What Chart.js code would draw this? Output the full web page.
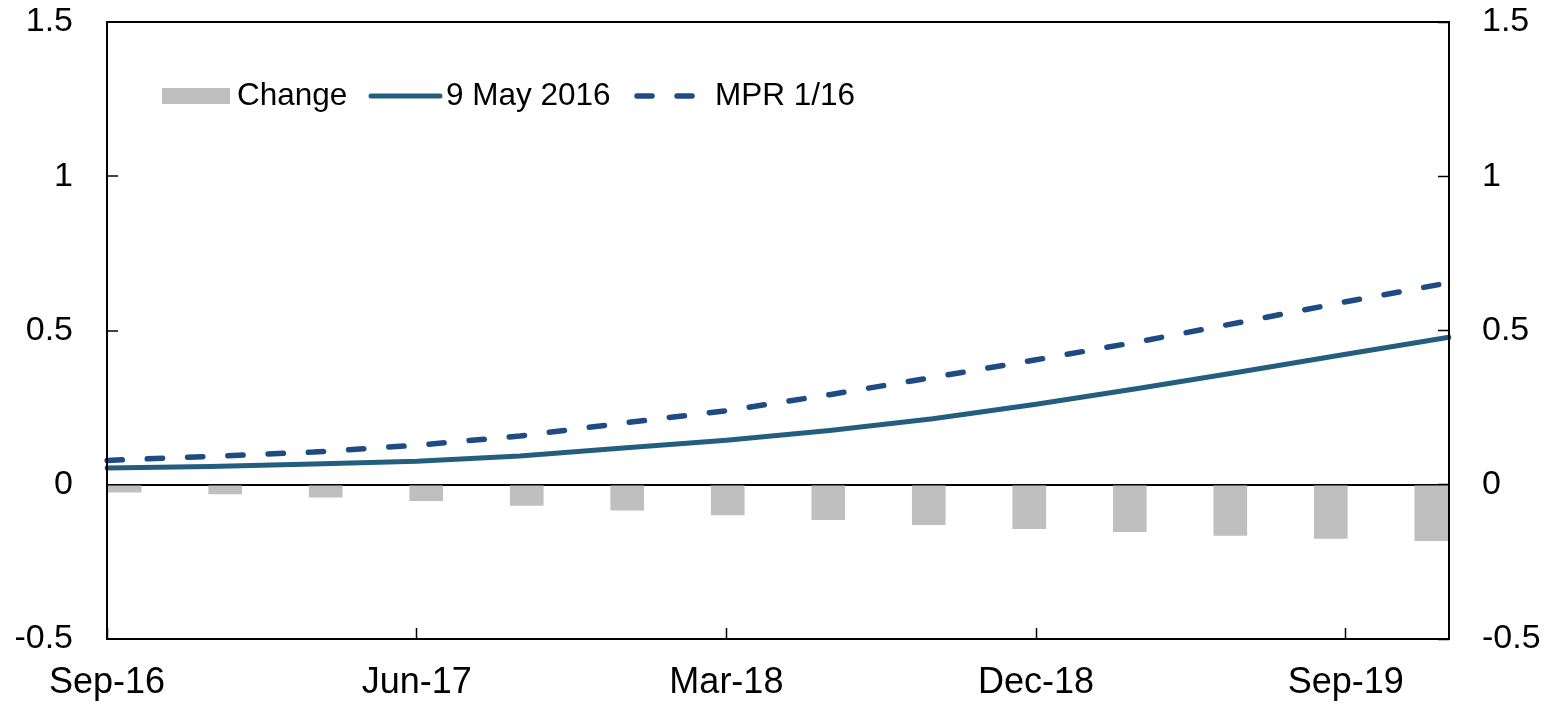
<!DOCTYPE html>
<html>
<head>
<meta charset="utf-8">
<script src="https://cdn.jsdelivr.net/npm/chart.js@4.4.1/dist/chart.umd.min.js"></script>
<style>
  html, body { margin: 0; padding: 0; background: #ffffff; }
  #wrap { width: 1552px; height: 704px; position: relative; }
</style>
</head>
<body>
<div id="wrap"><canvas id="c" width="1552" height="704"></canvas></div>
<script>
// ---- data ----
const categories = ['Sep-16','Dec-16','Mar-17','Jun-17','Sep-17','Dec-17','Mar-18','Jun-18','Sep-18','Dec-18','Mar-19','Jun-19','Sep-19','Dec-19'];
const xTickLabels = ['Sep-16','Jun-17','Mar-18','Dec-18','Sep-19'];
const yTickValues = [-0.5, 0, 0.5, 1, 1.5];
const seriesNames = ['Change', '9 May 2016', 'MPR 1/16'];
const changeValues = [-0.024, -0.030, -0.040, -0.052, -0.067, -0.082, -0.098, -0.113, -0.129, -0.142, -0.152, -0.164, -0.174, -0.181];
const may2016Values = [0.054, 0.059, 0.067, 0.076, 0.093, 0.119, 0.144, 0.176, 0.214, 0.261, 0.313, 0.367, 0.423, 0.478];
const mprValues = [0.079, 0.092, 0.106, 0.128, 0.158, 0.200, 0.240, 0.292, 0.348, 0.405, 0.464, 0.528, 0.593, 0.655];

// ---- styles ----
const FONT = "'Liberation Sans', Arial, sans-serif";
const COL_BAR = '#BFBFBF';
const COL_SOLID = '#245E7F';
const COL_DASH = '#1F4B84';
const DASH = [15.3, 25];

const framePlugin = {
  id: 'frame',
  afterDatasetsDraw(chart) {
    const {ctx, chartArea: a} = chart;
    ctx.save();
    ctx.strokeStyle = '#000';
    ctx.lineWidth = 2;
    ctx.strokeRect(a.left, a.top, a.right - a.left, a.bottom - a.top);
    ctx.restore();
  }
};

const legendPlugin = {
  id: 'customLegend',
  afterDraw(chart) {
    const ctx = chart.ctx;
    const yc = 96, base = 105;
    ctx.save();
    ctx.font = '31.5px ' + FONT;
    ctx.fillStyle = '#000';
    ctx.textBaseline = 'alphabetic';
    ctx.textAlign = 'left';
    ctx.fillStyle = COL_BAR;
    ctx.fillRect(162, 88, 68, 16);
    ctx.fillStyle = '#000';
    ctx.fillText(seriesNames[0], 237, base);
    ctx.strokeStyle = COL_SOLID;
    ctx.lineWidth = 5;
    ctx.lineCap = 'round';
    ctx.beginPath(); ctx.moveTo(371, yc); ctx.lineTo(440, yc); ctx.stroke();
    ctx.fillText(seriesNames[1], 446, base);
    ctx.strokeStyle = COL_DASH;
    ctx.lineWidth = 5.5;
    ctx.setLineDash([15, 25]);
    ctx.beginPath(); ctx.moveTo(637, yc); ctx.lineTo(693, yc); ctx.stroke();
    ctx.setLineDash([]);
    ctx.fillText(seriesNames[2], 715, base);
    ctx.restore();
  }
};

const yTickCb = (v) => yTickValues.includes(v) ? String(v) : '';
const noPad = (s) => { s.paddingTop = 0; s.paddingBottom = 0; s.paddingLeft = 0; s.paddingRight = 0; };

new Chart(document.getElementById('c'), {
  data: {
    labels: categories,
    datasets: [
      {
        type: 'line', label: seriesNames[1], data: may2016Values,
        xAxisID: 'x', yAxisID: 'y',
        borderColor: COL_SOLID, borderWidth: 5, pointRadius: 0, tension: 0,
        borderCapStyle: 'round', fill: false, order: 1
      },
      {
        type: 'line', label: seriesNames[2], data: mprValues,
        xAxisID: 'x', yAxisID: 'y',
        borderColor: COL_DASH, borderWidth: 5.5, borderDash: DASH, pointRadius: 0, tension: 0,
        borderCapStyle: 'round', fill: false, order: 1
      },
      {
        type: 'bar', label: seriesNames[0],
        data: changeValues.map((v, i) => ({x: i, y: v})),
        xAxisID: 'xb', yAxisID: 'y',
        backgroundColor: COL_BAR, borderWidth: 0,
        grouped: false, barPercentage: 1, categoryPercentage: 1, maxBarThickness: 33, order: 2
      }
    ]
  },
  options: {
    responsive: false,
    animation: false,
    devicePixelRatio: 1,
    layout: { padding: { top: 22, left: 0, right: 0, bottom: 0 } },
    plugins: { legend: { display: false }, tooltip: { enabled: false } },
    scales: {
      x: {
        type: 'category', position: 'bottom', offset: false,
        border: { display: false },
        grid: {
          drawOnChartArea: false, drawTicks: true, tickLength: -11,
          color: (c) => (c.index % 3 === 0 ? '#000' : 'rgba(0,0,0,0)'),
          tickColor: (c) => (c.index % 3 === 0 ? '#000' : 'rgba(0,0,0,0)'),
          tickWidth: 1.5
        },
        ticks: {
          autoSkip: false, maxRotation: 0, minRotation: 0, padding: 33,
          color: '#000', font: { family: FONT, size: 36 },
          callback: function(v, i) { const l = categories[i]; return xTickLabels.includes(l) ? l : ''; }
        },
        afterFit: (s) => { s.height = 65; noPad(s); }
      },
      xb: {
        type: 'linear', position: 'bottom', display: false, min: -0.176, max: 13.176, offset: false,
        ticks: { display: false }, grid: { display: false }
      },
      y: {
        type: 'linear', position: 'left', min: -0.5, max: 1.5,
        border: { display: false },
        grid: {
          drawOnChartArea: true, tickLength: -11, tickWidth: 1.5, lineWidth: 2,
          color: (c) => (c.tick && c.tick.value === 0 ? '#000' : 'rgba(0,0,0,0)'),
          tickColor: '#000'
        },
        ticks: {
          stepSize: 0.5, padding: 45, color: '#000', font: { family: FONT, size: 34 },
          callback: yTickCb
        },
        afterFit: (s) => { s.width = 107; noPad(s); }
      },
      y2: {
        type: 'linear', position: 'right', min: -0.5, max: 1.5,
        border: { display: false },
        grid: { drawOnChartArea: false, tickLength: -11, tickWidth: 1.5, tickColor: '#000' },
        ticks: {
          stepSize: 0.5, padding: 44, color: '#000', font: { family: FONT, size: 34 },
          callback: yTickCb
        },
        afterFit: (s) => { s.width = 103; noPad(s); }
      }
    }
  },
  plugins: [framePlugin, legendPlugin]
});
</script>
</body>
</html>
